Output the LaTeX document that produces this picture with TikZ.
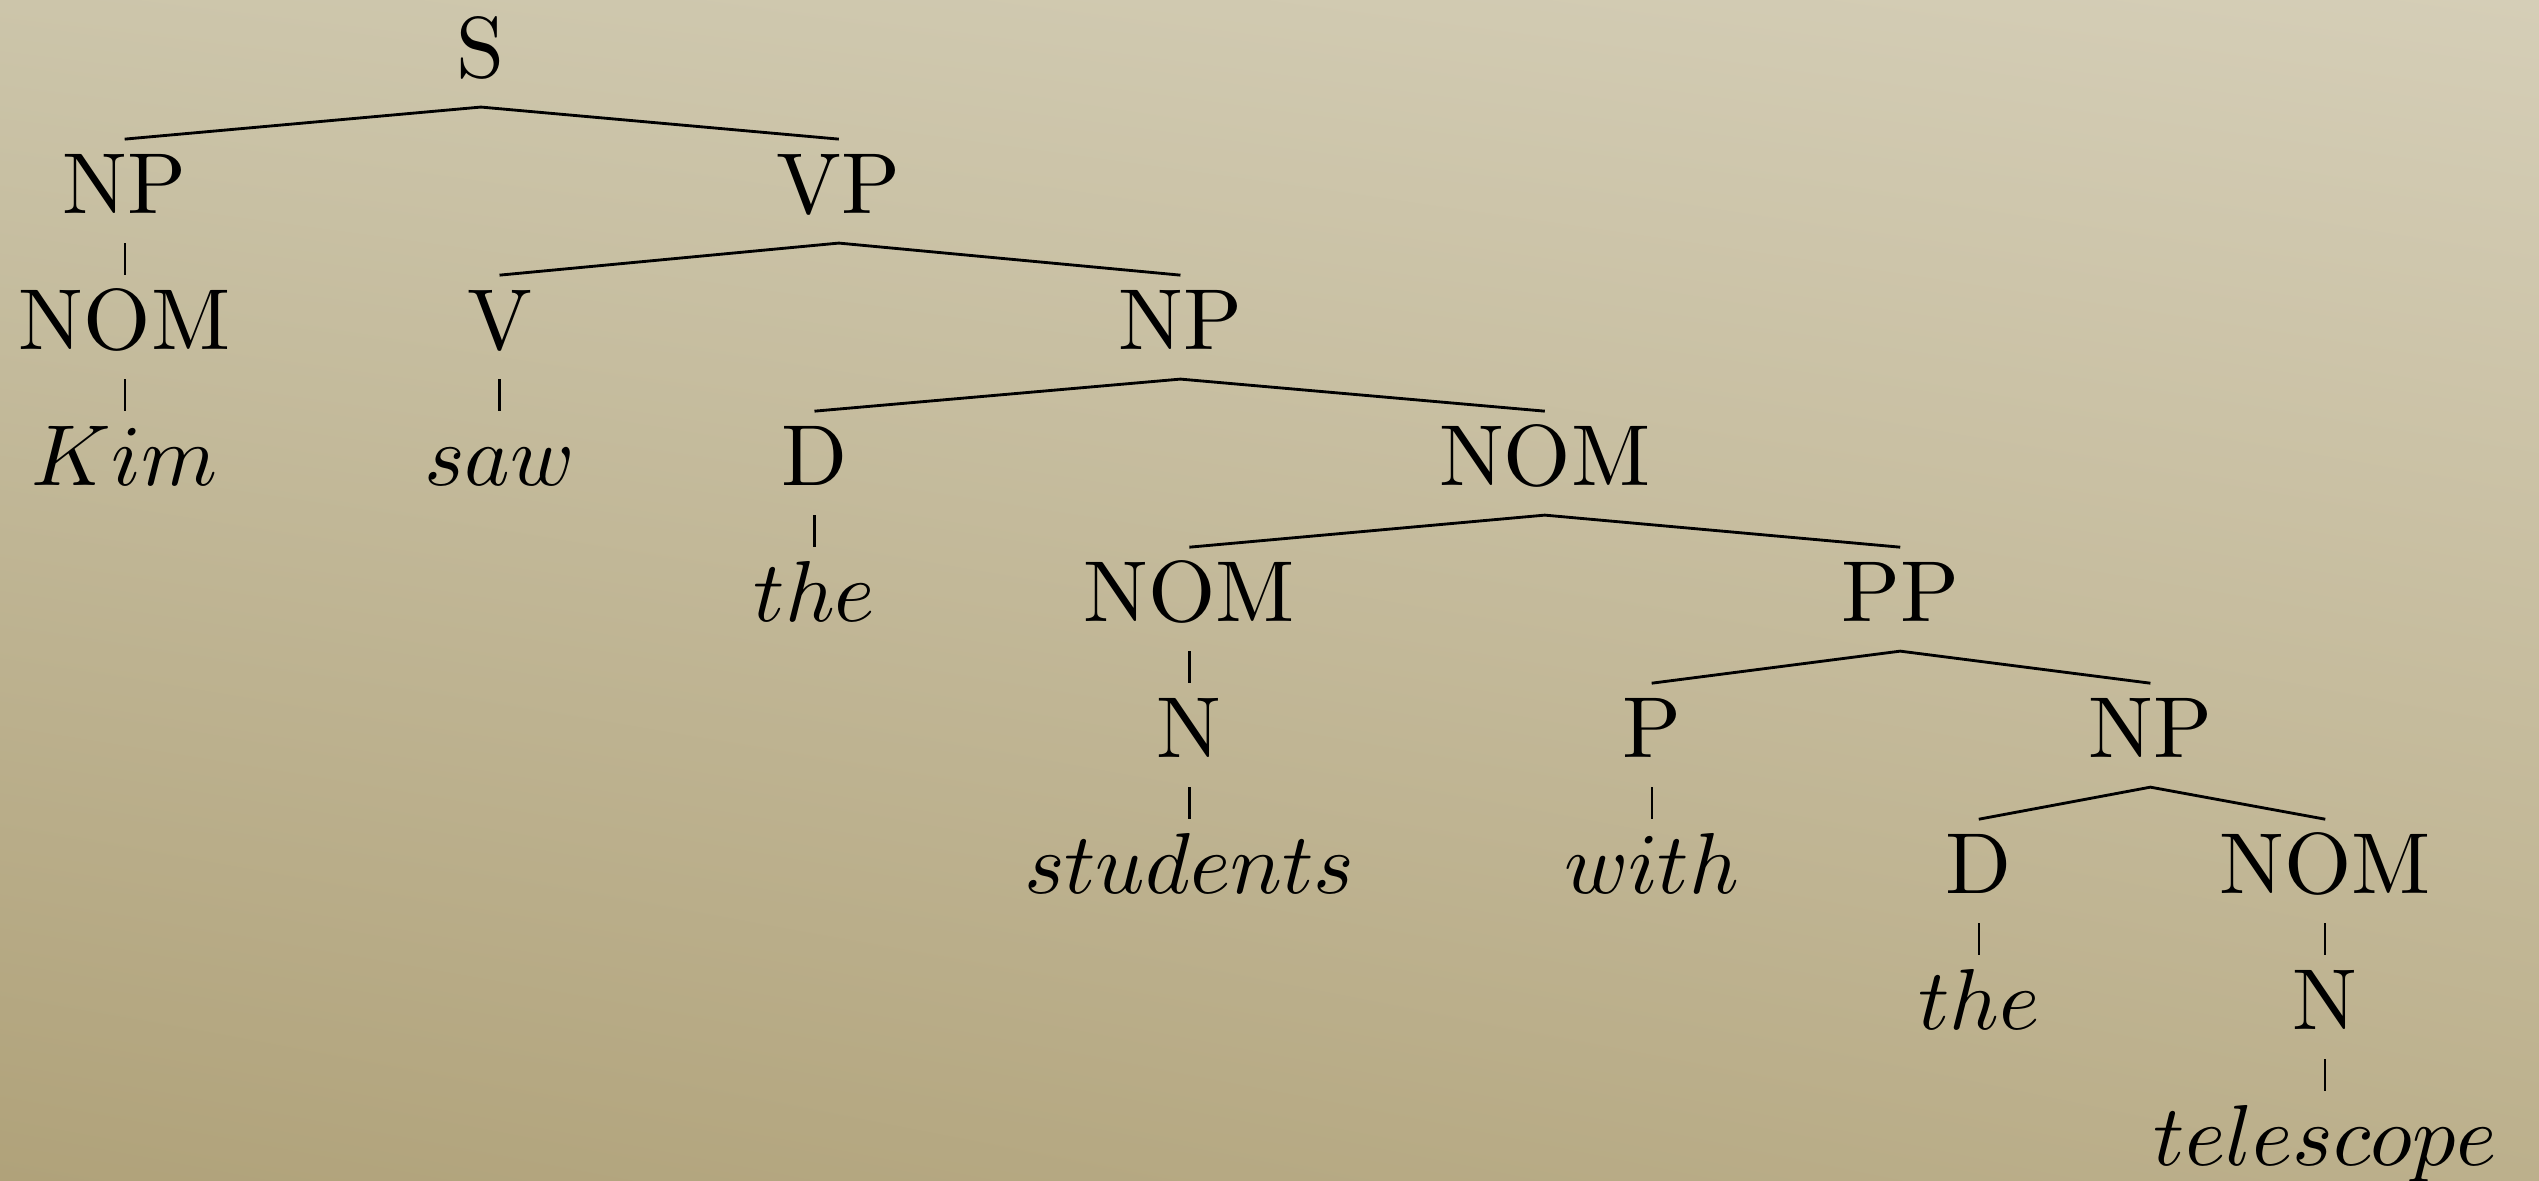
\RequirePackage{fix-cm}
\documentclass[tikz,border=0pt]{standalone}
\usepackage{tikz}
\usetikzlibrary{shadings}
\DeclareFontShape{OT1}{cmr}{m}{n}{<->cmr10}{}
\DeclareFontShape{OML}{cmm}{m}{it}{<->cmmi10}{}
\definecolor{paperTL}{RGB}{204,197,170}
\definecolor{paperTR}{RGB}{213,206,183}
\definecolor{paperBL}{RGB}{176,162,122}
\definecolor{paperBR}{RGB}{188,176,140}
\newcommand{\treefont}{\fontencoding{OT1}\fontfamily{cmr}\fontsize{15.2}{18}\selectfont}

\begin{document}
\begin{tikzpicture}[
  cat/.style={anchor=base, inner sep=0pt, outer xsep=0pt, outer ysep=0.093cm,
    text height=0.364cm, text depth=0.092cm, font=\treefont},
  branch/.style={line width=0.5pt},
  unary/.style={line width=0.4pt},
]
% Background
\shade[upper left=paperTL, upper right=paperTR, lower left=paperBL, lower right=paperBR]
  (0,0) rectangle (15.68,-7.29);
\useasboundingbox (0,0) rectangle (15.68,-7.29);

% Level 0
\node[cat] (s) at (2.97,-0.476) {S};

% Level 1
\node[cat] (np) at (0.77,-1.316) {NP};
\node[cat] (vp) at (5.18,-1.316) {VP};

% Level 2
\node[cat] (nom1) at (0.77,-2.156) {NOM};
\node[cat] (v) at (3.085,-2.156) {V};
\node[cat] (np2) at (7.29,-2.156) {NP};

% Level 3
\node[cat] (kim) at (0.77,-2.996) {$Kim$};
\node[cat] (saw) at (3.085,-2.996) {$saw$};
\node[cat] (d1) at (5.03,-2.996) {D};
\node[cat] (nom2) at (9.54,-2.996) {NOM};

% Level 4
\node[cat] (the1) at (5.03,-3.836) {$the$};
\node[cat] (nom3) at (7.345,-3.836) {NOM};
\node[cat] (pp) at (11.735,-3.836) {PP};

% Level 5
\node[cat] (n1) at (7.345,-4.676) {N};
\node[cat] (p) at (10.20,-4.676) {P};
\node[cat] (np3) at (13.28,-4.676) {NP};

% Level 6
\node[cat] (students) at (7.345,-5.516) {$students$};
\node[cat] (with) at (10.20,-5.516) {$with$};
\node[cat] (d2) at (12.22,-5.516) {D};
\node[cat] (nom4) at (14.36,-5.516) {NOM};

% Level 7
\node[cat] (the2) at (12.22,-6.356) {$the$};
\node[cat] (n2) at (14.36,-6.356) {N};

% Level 8
\node[cat] (telescope) at (14.36,-7.196) {$telescope$};

% Branches
\foreach \p/\l/\r in {s/np/vp, vp/v/np2, np2/d1/nom2, nom2/nom3/pp, pp/p/np3, np3/d2/nom4} {
  \draw[branch] (\l.north) -- (\p.south) -- (\r.north);
}
\foreach \a/\b in {np/nom1, nom1/kim, v/saw, d1/the1, nom3/n1, n1/students,
                   p/with, d2/the2, nom4/n2, n2/telescope} {
  \draw[unary] (\a.south) -- (\b.north);
}
\end{tikzpicture}
\end{document}
